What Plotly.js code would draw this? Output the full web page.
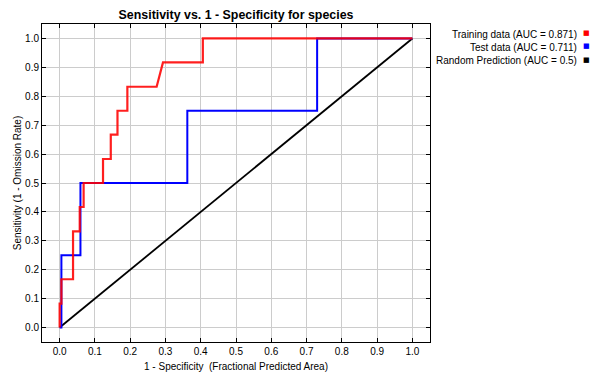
<!DOCTYPE html>
<html><head><meta charset="utf-8">
<script src="https://cdn.plot.ly/plotly-3.0.1.min.js"></script>
<style>html,body{margin:0;padding:0;background:#fff}#chart{width:591px;height:372px}</style>
</head><body><div id="chart"></div>
<script>
// Training data ROC (red)
const trainX = [0, 0, 0.005, 0.005, 0.038, 0.038, 0.057, 0.057, 0.068, 0.068, 0.123, 0.123, 0.145, 0.145, 0.164, 0.164, 0.192, 0.192, 0.275, 0.293, 0.406, 0.406, 1.0];
const trainY = [0, 0.083, 0.083, 0.167, 0.167, 0.333, 0.333, 0.417, 0.417, 0.5, 0.5, 0.583, 0.583, 0.667, 0.667, 0.75, 0.75, 0.833, 0.833, 0.917, 0.917, 1.0, 1.0];
// Test data ROC (blue)
const testX = [0, 0.005, 0.005, 0.059, 0.059, 0.362, 0.362, 0.730, 0.730, 1.0];
const testY = [0, 0, 0.25, 0.25, 0.5, 0.5, 0.75, 0.75, 1.0, 1.0];
// Random prediction (black)
const randX = [0, 1];
const randY = [0, 1];
const seriesNames = ["Training data (AUC = 0.871)", "Test data (AUC = 0.711)", "Random Prediction (AUC = 0.5)"];
const seriesColors = ["#ff0000", "#0000ff", "#000000"];
const tickVals = [0, 0.1, 0.2, 0.3, 0.4, 0.5, 0.6, 0.7, 0.8, 0.9, 1.0];
const tickText = ["0.0", "0.1", "0.2", "0.3", "0.4", "0.5", "0.6", "0.7", "0.8", "0.9", "1.0"];

const traces = [
  {x: randX, y: randY, mode: 'lines', line: {color: seriesColors[2], width: 1.8}, name: seriesNames[2]},
  {x: testX, y: testY, mode: 'lines', line: {color: seriesColors[1], width: 2}, name: seriesNames[1]},
  {x: trainX, y: trainY, mode: 'lines', line: {color: seriesColors[0], width: 2.2}, opacity: 0.88, name: seriesNames[0]}
];

const annotations = [];
seriesNames.forEach((n, i) => {
  annotations.push({xref: 'paper', yref: 'paper', x: (579 - 42) / 388, y: (342 - 34 - i * 13.3) / 318,
    xanchor: 'right', yanchor: 'middle', showarrow: false, text: n,
    font: {family: 'Liberation Sans, Arial, sans-serif', size: 10, color: '#000'}});
  annotations.push({xref: 'paper', yref: 'paper', x: (592 - 42) / 388, y: (342 - 33 - i * 13.3) / 318,
    xanchor: 'right', yanchor: 'middle', showarrow: false, text: '\u25A0',
    font: {family: 'DejaVu Sans', size: 7, color: seriesColors[i]}});
});

const axisCommon = {
  range: [-0.05, 1.05], tickvals: tickVals, ticktext: tickText,
  showgrid: true, gridcolor: '#cccccc', gridwidth: 1,
  showline: true, linecolor: '#000', linewidth: 1, mirror: 'ticks',
  ticks: 'inside', ticklen: 4, tickcolor: '#000',
  zeroline: false, fixedrange: true,
  tickfont: {family: 'Liberation Sans, Arial, sans-serif', size: 10, color: '#000'}
};

const layout = {
  width: 591, height: 372,
  margin: {l: 42, r: 161, t: 24, b: 30, pad: 0},
  paper_bgcolor: '#fff', plot_bgcolor: '#fff',
  showlegend: false,
  title: {text: '<b>Sensitivity vs. 1 - Specificity for species</b>', x: 0.5 * (42 + 430) / 591, xanchor: 'center', y: 1 - 15 / 372, yanchor: 'middle',
    font: {family: 'Liberation Sans, Arial, sans-serif', size: 12.4, color: '#000'}},
  xaxis: Object.assign({}, axisCommon, {
    title: {text: '1 - Specificity\u00a0 (Fractional Predicted Area)', standoff: 6,
      font: {family: 'Liberation Sans, Arial, sans-serif', size: 10, color: '#000'}}
  }),
  yaxis: Object.assign({}, axisCommon, {
    title: {text: 'Sensitivity (1 - Omission Rate)', standoff: 1,
      font: {family: 'Liberation Sans, Arial, sans-serif', size: 10, color: '#000'}}
  }),
  annotations: annotations
};

Plotly.newPlot('chart', traces, layout, {displayModeBar: false, staticPlot: true});
</script>
</body></html>
